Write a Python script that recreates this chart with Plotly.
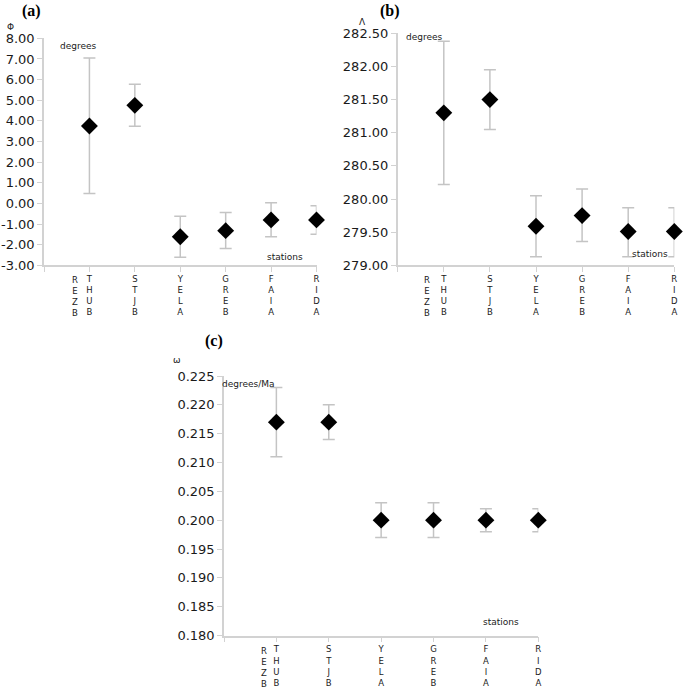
import plotly.graph_objects as go

# stations along the x axis (REZB label sits next to THUB, no own tick)
stations = ["THUB", "STJB", "YELA", "GREB", "FAIA", "RIDA"]
extra_label = "REZB"

# (a) Phi, degrees
phi = [3.75, 4.75, -1.62, -1.32, -0.80, -0.80]
phi_hi = [7.04, 5.77, -0.62, -0.44, 0.03, -0.11]
phi_lo = [0.48, 3.74, -2.61, -2.19, -1.62, -1.50]
phi_ticks = [-3, -2, -1, 0, 1, 2, 3, 4, 5, 6, 7, 8]

# (b) Lambda, degrees
lam = [281.30, 281.50, 279.59, 279.75, 279.51, 279.51]
lam_hi = [282.38, 281.95, 280.05, 280.15, 279.87, 279.87]
lam_lo = [280.22, 281.05, 279.13, 279.36, 279.13, 279.13]
lam_ticks = [279.0, 279.5, 280.0, 280.5, 281.0, 281.5, 282.0, 282.5]

# (c) omega, degrees/Ma
omega = [0.217, 0.217, 0.200, 0.200, 0.200, 0.200]
omega_hi = [0.223, 0.220, 0.203, 0.203, 0.202, 0.202]
omega_lo = [0.211, 0.214, 0.197, 0.197, 0.198, 0.198]
omega_ticks = [0.180, 0.185, 0.190, 0.195, 0.200, 0.205, 0.210, 0.215, 0.220, 0.225]

W, H = 685, 689


def px(x):
    return x / W


def py(y):
    return 1 - y / H


def stack(s):
    return "<br>".join(list(s))


xs = list(range(1, len(stations) + 1))
AXIS_GREY = "#d2d2d2"
BAR_GREY = "#c4c4c4"
TXT = "#1a1a1a"

fig = go.Figure()

panels = [
    # values, hi, lo, ticks, fmt, xaxis, yaxis, xdomain(px), ydomain(px)
    (phi, phi_hi, phi_lo, phi_ticks, "{:.2f}", "x", "y", (44, 316.5), (265.3, 38.3)),
    (lam, lam_hi, lam_lo, lam_ticks, "{:.2f}", "x2", "y2", (397.7, 674.3), (265.3, 33.3)),
    (omega, omega_hi, omega_lo, omega_ticks, "{:.3f}", "x3", "y3", (224, 538.3), (635.5, 376)),
]

layout_axes = {}
for i, (vals, hi, lo, ticks, fmt, xa, ya, xd, yd) in enumerate(panels):
    fig.add_trace(go.Scatter(
        x=xs, y=vals, mode="markers",
        marker=dict(symbol="diamond", size=13, color="black"),
        error_y=dict(type="data", symmetric=False,
                     array=[h - v for h, v in zip(hi, vals)],
                     arrayminus=[v - l for v, l in zip(vals, lo)],
                     color=BAR_GREY, thickness=1.5, width=6),
        xaxis=xa, yaxis=ya, cliponaxis=False, hoverinfo="skip",
    ))
    xname = "xaxis" if i == 0 else "xaxis%d" % (i + 1)
    yname = "yaxis" if i == 0 else "yaxis%d" % (i + 1)
    layout_axes[xname] = dict(
        domain=[px(xd[0]), px(xd[1])], anchor=ya, range=[0, len(stations)],
        tickvals=[0] + xs, ticktext=[""] + [stack(s) for s in stations],
        showline=True, linecolor=AXIS_GREY, linewidth=1.5,
        ticks="outside", ticklen=5, tickcolor=AXIS_GREY, tickwidth=1.2,
        showgrid=False, zeroline=False, tickangle=0, automargin=False,
        tickfont=dict(family="DejaVu Sans", size=8.5, color=TXT),
    )
    layout_axes[yname] = dict(
        domain=[py(yd[0]), py(yd[1])], anchor=xa, range=[ticks[0], ticks[-1]],
        tickvals=ticks, ticktext=[fmt.format(t) for t in ticks],
        showline=True, linecolor=AXIS_GREY, linewidth=1.5,
        ticks="outside", ticklen=5, tickcolor=AXIS_GREY, tickwidth=1.2,
        showgrid=False, zeroline=False, automargin=False,
        tickfont=dict(family="DejaVu Sans", size=13, color=TXT),
    )

fig.update_layout(**layout_axes)

notes = []
# panel letters
for txt, x, y in [("(a)", 31, 11), ("(b)", 390, 11), ("(c)", 214, 341)]:
    notes.append(dict(text="<b>%s</b>" % txt, x=px(x), y=py(y),
                      font=dict(family="Liberation Serif", size=16, color="black")))
# axis symbols
for txt, x, y in [("Φ", 10, 27), ("Λ", 362, 22), ("ω", 177, 360)]:
    notes.append(dict(text=txt, x=px(x), y=py(y),
                      font=dict(family="DejaVu Sans", size=9, color=TXT)))
# units and x-axis names
for txt, x, y in [("degrees", 78.5, 46), ("degrees", 424.5, 37), ("degrees/Ma", 248, 384),
                  ("stations", 284.5, 257), ("stations", 649.5, 254), ("stations", 500.7, 621.5)]:
    notes.append(dict(text=txt, x=px(x), y=py(y),
                      font=dict(family="DejaVu Sans", size=9, color=TXT)))
# REZB label beside THUB
for x, ya in [(75, 265.3), (427.3, 265.3), (264.3, 635.5)]:
    notes.append(dict(text=stack(extra_label), x=px(x), y=py(ya), yanchor="top", yshift=-8,
                      font=dict(family="DejaVu Sans", size=8.5, color=TXT)))

for n in notes:
    n.update(xref="paper", yref="paper", showarrow=False)
    n.setdefault("xanchor", "center")
    n.setdefault("yanchor", "middle")

fig.update_layout(
    width=W, height=H,
    margin=dict(l=0, r=0, t=0, b=0),
    paper_bgcolor="white", plot_bgcolor="white",
    showlegend=False,
    annotations=notes,
)

# drop the browser's default body margin so the figure fills the window
fig.write_html("out.html", config={"displayModeBar": False},
               post_script="document.body.style.margin='0';")
